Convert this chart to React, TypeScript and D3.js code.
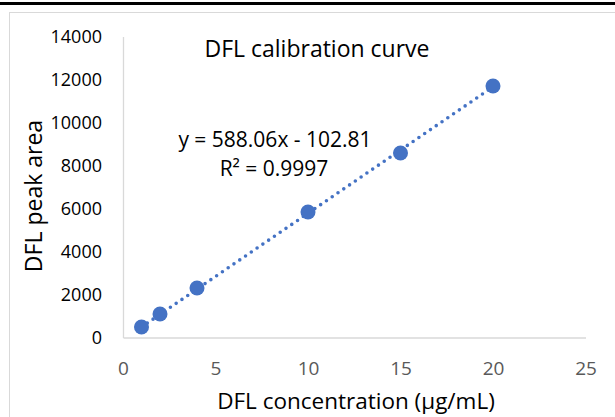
import React, { useEffect, useRef } from "react";
import * as d3 from "d3";

// calibration points
const concentrations = [1, 2, 4, 10, 15, 20];
const peakAreas = [488, 1093, 2302, 5837, 8581, 11698];

// fitted line as printed on the chart
const slope = 588.06;
const intercept = -102.81;
const equationLabel = "y = 588.06x - 102.81";
const r2Label = "R² = 0.9997";

const xTicks = [0, 5, 10, 15, 20, 25];
const yTicks = [0, 2000, 4000, 6000, 8000, 10000, 12000, 14000];

const chartTitle = "DFL calibration curve";
const xTitle = "DFL concentration (µg/mL)";
const yTitle = "DFL peak area";

const App = () => {
  const svgRef = useRef<SVGSVGElement>(null);

  useEffect(() => {
    const svg = d3.select(svgRef.current);
    svg.selectAll("*").remove();

    const width = 615;
    const height = 417;
    const font = "Open Sans, Noto Sans, sans-serif";
    const blue = "#4472C4";

    const x = d3.scaleLinear().domain([0, 25]).range([123, 585.5]);
    const y = d3.scaleLinear().domain([0, 14000]).range([337.5, 36.5]);

    // black rule across the top of the page, then the chart frame
    svg.append("rect")
      .attr("x", 0).attr("y", 2)
      .attr("width", width).attr("height", 3)
      .attr("fill", "#000");

    svg.append("rect")
      .attr("x", 9.5).attr("y", 12.5)
      .attr("width", width).attr("height", height)
      .attr("fill", "#fff")
      .attr("stroke", "#D9D9D9");

    // axes
    const xAxis = svg.append("g")
      .attr("transform", `translate(0, ${y(0)})`)
      .call(d3.axisBottom(x).tickValues(xTicks).tickSize(0).tickPadding(24));
    xAxis.select(".domain").attr("stroke", "#D9D9D9").attr("stroke-width", 1.3);
    xAxis.selectAll("text")
      .attr("font-family", font)
      .attr("font-size", 19)
      .attr("fill", "#595959");

    const yAxis = svg.append("g")
      .attr("transform", `translate(${x(0)}, 0)`)
      .call(d3.axisLeft(y).tickValues(yTicks).tickFormat(d3.format("d")).tickSize(0).tickPadding(21));
    yAxis.select(".domain").attr("stroke", "#D9D9D9").attr("stroke-width", 1.3);
    yAxis.selectAll("text")
      .attr("font-family", font)
      .attr("font-size", 18)
      .attr("fill", "#000");

    // trendline
    const xs = [d3.min(concentrations)!, d3.max(concentrations)!];
    svg.append("path")
      .attr("d", d3.line<number>()
        .x(d => x(d))
        .y(d => y(slope * d + intercept))(xs))
      .attr("fill", "none")
      .attr("stroke", blue)
      .attr("stroke-width", 3.6)
      .attr("stroke-linecap", "round")
      .attr("stroke-dasharray", "0 7");

    // points
    svg.append("g")
      .selectAll("circle")
      .data(concentrations)
      .join("circle")
      .attr("cx", d => x(d))
      .attr("cy", (d, i) => y(peakAreas[i]))
      .attr("r", 7.5)
      .attr("fill", blue);

    // title + equation
    svg.append("text")
      .attr("x", 317).attr("y", 57)
      .attr("text-anchor", "middle")
      .attr("font-family", font)
      .attr("font-size", 23)
      .attr("fill", "#000")
      .text(chartTitle);

    svg.append("text")
      .attr("x", 275).attr("y", 147)
      .attr("text-anchor", "middle")
      .attr("font-family", font)
      .attr("font-size", 21)
      .attr("fill", "#000")
      .text(equationLabel);

    svg.append("text")
      .attr("x", 274).attr("y", 176)
      .attr("text-anchor", "middle")
      .attr("font-family", font)
      .attr("font-size", 21)
      .attr("fill", "#000")
      .text(r2Label);

    // axis titles
    svg.append("text")
      .attr("x", 356).attr("y", 409)
      .attr("text-anchor", "middle")
      .attr("font-family", font)
      .attr("font-size", 22.5)
      .attr("fill", "#000")
      .text(xTitle);

    svg.append("text")
      .attr("transform", "rotate(-90)")
      .attr("x", -196).attr("y", 42)
      .attr("text-anchor", "middle")
      .attr("font-family", font)
      .attr("font-size", 23)
      .attr("fill", "#000")
      .text(yTitle);
  }, []);

  return (
    <svg
      ref={svgRef}
      width={615}
      height={417}
      style={{ position: "absolute", left: 0, top: 0, background: "#fff" }}
    />
  );
};

export default App;
